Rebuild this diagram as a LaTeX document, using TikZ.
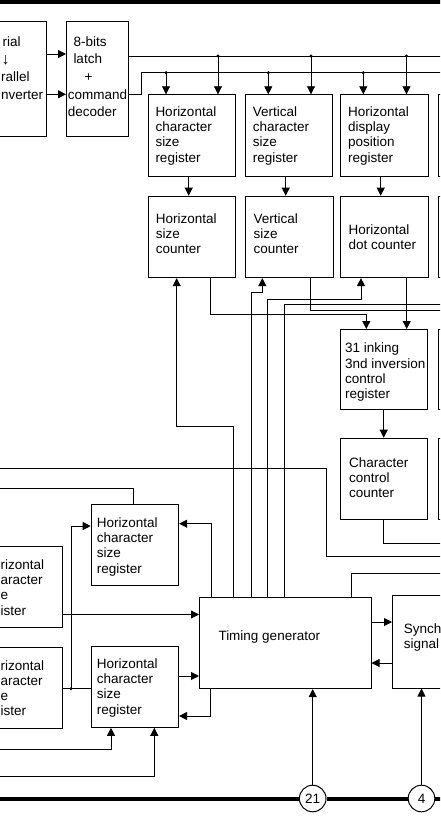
\documentclass[tikz,border=0pt]{standalone}
\usepackage{fontspec}
\setmainfont{Liberation Sans}
\usetikzlibrary{arrows.meta}
\newcommand{\tl}[1]{\begin{tabular}[t]{@{}l@{}}#1\end{tabular}}
\begin{document}
\begin{tikzpicture}[x=1pt,y=-1pt,
  box/.style={draw, line width=0.8pt, inner sep=0pt, anchor=north west},
  txt/.style={anchor=base west, inner sep=0pt, font=\fontsize{13.5}{15.3}\selectfont},
  txtw/.style={anchor=base west, inner sep=0pt, font=\fontsize{13.5}{17.6}\selectfont},
  wire/.style={line width=0.9pt},
  arr/.style={wire, -{Triangle[length=8pt,width=8pt]}},
  dot/.style={circle, fill, inner sep=0pt, minimum size=3.4pt},
  bus/.style={line width=4pt},
  pin/.style={circle, draw, line width=1pt, fill=white, minimum size=26.6pt, inner sep=0pt, font=\fontsize{13.5}{15}\selectfont}]
\useasboundingbox (0,0) rectangle (440,818);
\clip (0,0) rectangle (440,818);
\coordinate (L) at (-6,0);
\coordinate (R) at (446,0);

% ---------- boxes ----------
\node[box, minimum width=85.7pt, minimum height=115pt] (conv) at (-40,20.7) {};
\node[box, minimum width=62pt, minimum height=115pt] (lat) at (66,20.7) {};
\node[box, minimum width=87.6pt, minimum height=81.4pt] (hcsr) at (147.7,94.3) {};
\node[box, minimum width=87.6pt, minimum height=81.4pt] (vcsr) at (244.7,94.3) {};
\node[box, minimum width=88pt, minimum height=81.4pt] (hdpr) at (339.7,94.3) {};
\node[box, minimum width=60pt, minimum height=81.4pt] (rA) at (437.7,94.3) {};
\node[box, minimum width=87.8pt, minimum height=81.6pt] (hsc) at (147.5,195.7) {};
\node[box, minimum width=87.7pt, minimum height=81.6pt] (vsc) at (245,195.7) {};
\node[box, minimum width=88pt, minimum height=81.6pt] (hdc) at (339.5,195.7) {};
\node[box, minimum width=60pt, minimum height=81.6pt] (rB) at (437.6,195.7) {};
\node[box, minimum width=87.6pt, minimum height=80.3pt] (ink) at (339.7,329) {};
\node[box, minimum width=60pt, minimum height=80.3pt] (rC) at (437.7,329) {};
\node[box, minimum width=87.6pt, minimum height=81.3pt] (ccc) at (339.7,437.7) {};
\node[box, minimum width=60pt, minimum height=81.3pt] (rD) at (437.7,437.7) {};
\node[box, minimum width=87.6pt, minimum height=81pt] (uhcsr) at (90.7,504) {};
\node[box, minimum width=102.3pt, minimum height=81pt] (lb1) at (-40,545.7) {};
\node[box, minimum width=102.3pt, minimum height=81pt] (lb2) at (-40,647.3) {};
\node[box, minimum width=87.6pt, minimum height=81.3pt] (lhcsr) at (90.7,645.7) {};
\node[box, minimum width=171.7pt, minimum height=91.6pt] (tg) at (199,596.7) {};
\node[box, minimum width=80pt, minimum height=92.4pt] (syn) at (392,595.3) {};

% ---------- texts ----------
\node[txtw] (convT) at (1,46.7) {\tl{\hspace*{1.5pt}rial\\\hspace*{0.5pt}{\fontsize{16}{17.6}\selectfont ↓}\\rallel\\nverter}};
\node[txtw] (latT) at (67.7,46.3) {\tl{\hspace*{5.6pt}8-bits\\\hspace*{5.6pt}latch\\\hspace*{16.7pt}+\\command\\decoder}};
\node[txt] (hcsrT) at (155.3,116.3) {\tl{Horizontal\\character\\size\\register}};
\node[txt] (vcsrT) at (252.7,116.3) {\tl{Vertical\\character\\size\\register}};
\node[txt] (hdprT) at (348,116.3) {\tl{Horizontal\\display\\position\\register}};
\node[txt] (hscT) at (155.7,223.3) {\tl{Horizontal\\size\\counter}};
\node[txt] (vscT) at (253.3,223.3) {\tl{Vertical\\size\\counter}};
\node[txt] (hdcT) at (348.3,234) {\tl{Horizontal\\dot counter}};
\node[txt] (inkT) at (345,352.8) {\tl{31 inking\\3nd inversion\\control\\register}};
\node[txt] (cccT) at (349,467.3) {\tl{Character\\control\\counter}};
\node[txt] (uhcsrT) at (96.7,527.3) {\tl{Horizontal\\character\\size\\register}};
\node[txt] (lhcsrT) at (96.7,668.3) {\tl{Horizontal\\character\\size\\register}};
\node[txt] (lb1T) at (0.5,569.3) {\tl{rizontal\\aracter\\e\\ister}};
\node[txt] (lb2T) at (0.5,670) {\tl{rizontal\\aracter\\e\\ister}};
\node[txt] (tgT) at (218.3,640) {Timing generator};
\node[txt] (synT) at (403.7,633.3) {\tl{Synch\\signal}};

% ---------- top ----------
\draw[bus] (L |- 0,2) -- (R |- 0,2);
\draw[arr] (conv.east |- 0,54) -- (lat.west |- 0,54);
\draw[arr] (conv.east |- 0,94.3) -- (lat.west |- 0,94.3);
\draw[wire] (lat.east |- 0,56) -- (R |- 0,56);
\draw[wire] (lat.east |- 0,94.3) -- (141,94.3) -- (141,72.7) -- (R |- 0,72.7);
\node[dot] (d1) at (166,72.7) {};
\node[dot] (d2) at (218,56) {};
\node[dot] (d3) at (268.3,72.7) {};
\node[dot] (d4) at (311,56) {};
\node[dot] (d5) at (363.3,72.7) {};
\node[dot] (d6) at (406.5,56) {};
\draw[arr] (d1.center) -- (hcsr.north -| d1);
\draw[arr] (d2.center) -- (hcsr.north -| d2);
\draw[arr] (d3.center) -- (vcsr.north -| d3);
\draw[arr] (d4.center) -- (vcsr.north -| d4);
\draw[arr] (d5.center) -- (hdpr.north -| d5);
\draw[arr] (d6.center) -- (hdpr.north -| d6);

% ---------- register -> counter ----------
\draw[arr] (hcsr.south -| 188.7,0) -- (hsc.north -| 188.7,0);
\draw[arr] (vcsr.south -| 285.7,0) -- (vsc.north -| 285.7,0);
\draw[arr] (hdpr.south -| 380.7,0) -- (hdc.north -| 380.7,0);

\draw[arr] (hsc.south -| 210.7,0) -- (210.7,314.3) -- (366.3,314.3) -- (ink.north -| 366.3,0);
\draw[arr] (hdc.south -| 406.7,0) -- (ink.north -| 406.7,0);
\draw[wire] (vsc.south -| 310,0) -- (310,310) -- (R |- 0,310);
\draw[arr] (ink.south -| 383.7,0) -- (ccc.north -| 383.7,0);
\draw[wire] (ccc.south -| 383,0) -- (383,543.3) -- (R |- 0,543.3);

% ---------- timing generator top ----------
\draw[arr] (tg.north -| 211.7,0) -- (211.7,523.7) -- (uhcsr.east |- 0,523.7);
\draw[arr] (tg.north -| 233.3,0) -- (233.3,426.7) -- (176.7,426.7) -- (hsc.south -| 176.7,0);
\draw[arr] (tg.north -| 251,0) -- (251,292) -- (262.3,292) -- (vsc.south -| 262.3,0);
\draw[arr] (tg.north -| 267,0) -- (267,299) -- (361,299) -- (hdc.south -| 361,0);
\draw[wire] (tg.north -| 284.7,0) -- (284.7,304.7) -- (R |- 0,304.7);
\draw[wire] (tg.north -| 351,0) -- (351,573.3) -- (R |- 0,573.3);
\draw[wire] (L |- 0,468.3) -- (326,468.3) -- (326,556.7) -- (R |- 0,556.7);
\draw[wire] (L |- 0,488.3) -- (133.3,488.3) -- (uhcsr.north -| 133.3,0);

% ---------- left side ----------
\draw[arr] (lb1.east |- 0,614.5) -- (tg.west |- 0,614.5);
\draw[wire] (lb2.east |- 0,688.7) -- (lhcsr.west |- 0,688.7);
\node[dot] (d7) at (71,688.7) {};
\draw[arr] (d7.center) -- (71,526) -- (uhcsr.west |- 0,526);
\draw[arr] (lhcsr.east |- 0,676) -- (tg.west |- 0,676);
\draw[arr] (tg.south -| 210.7,0) -- (210.7,716) -- (lhcsr.east |- 0,716);
\draw[arr] (L |- 0,749.7) -- (111,749.7) -- (lhcsr.south -| 111,0);
\draw[arr] (L |- 0,776) -- (154.3,776) -- (lhcsr.south -| 154.3,0);
\draw[arr] (tg.east |- 0,622) -- (syn.west |- 0,622);
\draw[arr] (syn.west |- 0,663) -- (tg.east |- 0,663);

% ---------- bottom bus ----------
\node[pin] (c21) at (312.7,798.5) {21};
\node[pin] (c4) at (421.5,798.5) {4};
\draw[bus] (L |- 0,798.5) -- (c21.west);
\draw[bus] (c21.east) -- (c4.west);
\draw[bus] (c4.east) -- (R |- 0,798.5);
\draw[arr] (c21.north) -- (tg.south -| c21.north);
\draw[arr] (c4.north) -- (syn.south -| c4.north);
\end{tikzpicture}
\end{document}
